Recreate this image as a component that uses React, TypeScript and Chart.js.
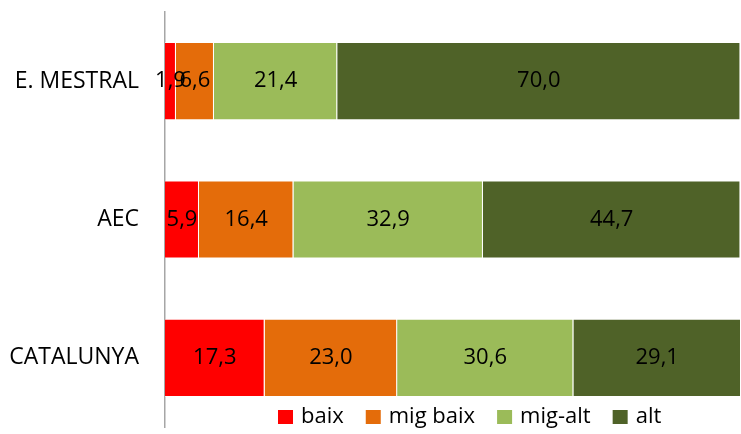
import React, { useEffect, useRef } from "react";
import { Chart, registerables } from "chart.js";

Chart.register(...registerables);

const categories = ["E. MESTRAL", "AEC", "CATALUNYA"];
const seriesLabels = ["baix", "mig baix", "mig-alt", "alt"];
const baix = [1.9, 5.9, 17.3];
const migBaix = [6.6, 16.4, 23.0];
const migAlt = [21.4, 32.9, 30.6];
const alt = [70.0, 44.7, 29.1];
const colors = ["#FF0000", "#E46C0A", "#9BBB59", "#4F6228"];

const FONT = "'Open Sans', sans-serif";

const valueLabels = {
  id: "valueLabels",
  afterDatasetsDraw(chart: any) {
    const ctx = chart.ctx;
    ctx.save();
    ctx.font = `22px ${FONT}`;
    ctx.fillStyle = "#000";
    ctx.textAlign = "center";
    ctx.textBaseline = "middle";
    chart.data.datasets.forEach((ds: any, di: number) => {
      const meta = chart.getDatasetMeta(di);
      meta.data.forEach((el: any, i: number) => {
        const v = ds.data[i];
        const cx = (el.x + el.base) / 2;
        ctx.fillText(v.toFixed(1).replace(".", ","), cx, el.y);
      });
    });
    ctx.restore();
  },
};

const customLegend = {
  id: "customLegend",
  afterDraw(chart: any) {
    const ctx = chart.ctx;
    ctx.save();
    ctx.font = `22px ${FONT}`;
    ctx.textBaseline = "middle";
    ctx.textAlign = "left";
    let x = 278;
    const y = 417;
    chart.data.datasets.forEach((ds: any) => {
      ctx.fillStyle = ds.backgroundColor;
      ctx.fillRect(x, y - 7, 15, 14);
      ctx.fillStyle = "#000";
      ctx.fillText(ds.label, x + 23, y);
      x += 23 + ctx.measureText(ds.label).width + 22;
    });
    ctx.restore();
  },
};

export default function App() {
  const ref = useRef<HTMLCanvasElement | null>(null);
  useEffect(() => {
    if (!ref.current) return;
    const series = [baix, migBaix, migAlt, alt];
    const chart = new Chart(ref.current, {
      type: "bar",
      data: {
        labels: categories,
        datasets: series.map((d, i) => ({
          label: seriesLabels[i],
          data: d,
          backgroundColor: colors[i],
          borderColor: "rgba(255,255,255,0.55)",
          borderWidth: 1,
          categoryPercentage: 1,
          barPercentage: 0.565,
        })),
      },
      options: {
        indexAxis: "y",
        animation: false,
        responsive: true,
        maintainAspectRatio: false,
        layout: { padding: { top: 12, bottom: 7, left: 0, right: 0 } },
        plugins: {
          legend: { display: false },
          tooltip: { enabled: false },
        },
        scales: {
          x: { stacked: true, min: 0, max: 100, display: false },
          y: {
            stacked: true,
            grid: { display: false, drawTicks: false },
            border: { display: true, color: "#A6A6A6", width: 1.5 },
            ticks: {
              padding: 26,
              color: "#000",
              font: { family: FONT, size: 23 },
            },
            afterFit: (scale: any) => {
              scale.width = 165;
              scale.paddingTop = 0;
              scale.paddingBottom = 0;
            },
          },
        },
      },
      plugins: [valueLabels, customLegend],
    });
    return () => chart.destroy();
  }, []);
  return (
    <div style={{ position: "absolute", left: 0, top: 0, width: 741, height: 434, background: "#fff" }}>
      <canvas ref={ref} />
    </div>
  );
}
